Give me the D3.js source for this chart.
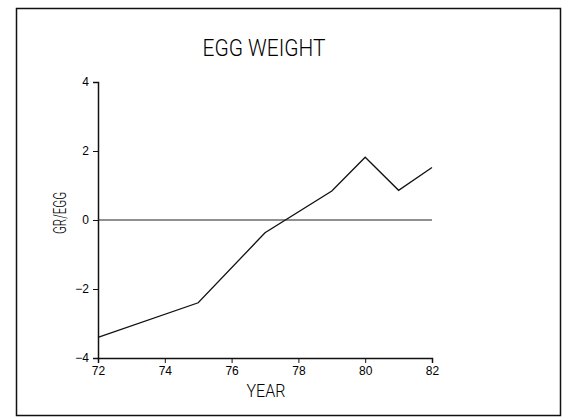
<!DOCTYPE html>
<html>
<head>
<meta charset="utf-8">
<script src="https://cdn.jsdelivr.net/npm/d3@7"></script>
<style>
  body { margin: 0; background: #fff; }
  .tick text { font-family: "Liberation Sans", Arial, sans-serif; font-size: 12px; fill: #000; }
  .label { font-family: Roboto, "DejaVu Sans", sans-serif; font-weight: 300; fill: #000; }
</style>
</head>
<body>
<div id="chart"></div>
<script>
// data
var years = [72, 75, 77, 79, 80, 81, 82];
var weights = [-3.4, -2.4, -0.37, 0.84, 1.82, 0.86, 1.52];
var xTicks = [72, 74, 76, 78, 80, 82];
var yTicks = [-4, -2, 0, 2, 4];

var W = 565, H = 419;
var margin = { top: 82, right: 133, bottom: 61, left: 98 },
  width = W - margin.left - margin.right,
  height = H - margin.top - margin.bottom;

var svg = d3.select("#chart").append("svg")
  .attr("width", W)
  .attr("height", H);

//Outer frame
svg.append("rect")
  .attr("x", 16.5).attr("y", 8.5)
  .attr("width", 544).attr("height", 407)
  .attr("fill", "none")
  .attr("stroke", "#111")
  .attr("stroke-width", 1.5);

var g = svg.append("g")
  .attr("transform", "translate(" + margin.left + "," + margin.top + ")");

var x = d3.scaleLinear().domain([72, 82]).range([0, width]);
var y = d3.scaleLinear().domain([-4, 4]).range([height, 0]);

//Axes
g.append("g")
  .attr("transform", "translate(0," + height + ")")
  .call(d3.axisBottom(x).tickValues(xTicks).tickSize(5).tickPadding(3))
  .call(function(a) {
    a.select(".domain").attr("stroke", "#111").attr("stroke-width", 1.5);
    a.selectAll(".tick line").attr("stroke", "#111");
  });

g.append("g")
  .call(d3.axisLeft(y).tickValues(yTicks).tickSize(5).tickPadding(4)
    .tickFormat(function(d) { return d < 0 ? "\u2212" + Math.abs(d) : d; }))
  .call(function(a) {
    a.select(".domain").attr("stroke", "#111").attr("stroke-width", 1.5);
    a.selectAll(".tick line").attr("stroke", "#111");
  });

//Zero reference line
g.append("line")
  .attr("x1", 0).attr("x2", width)
  .attr("y1", y(0)).attr("y2", y(0))
  .attr("stroke", "#222")
  .attr("stroke-width", 1.2);

//Data line
var line = d3.line()
  .x(function(d, i) { return x(years[i]); })
  .y(function(d) { return y(d); });

g.append("path")
  .datum(weights)
  .attr("d", line)
  .attr("fill", "none")
  .attr("stroke", "#111")
  .attr("stroke-width", 1.3);

//Titles
svg.append("text")
  .attr("class", "label")
  .attr("x", 264).attr("y", 56)
  .attr("text-anchor", "middle")
  .attr("font-size", 24)
  .attr("textLength", 123)
  .attr("lengthAdjust", "spacingAndGlyphs")
  .text("EGG WEIGHT");

svg.append("text")
  .attr("class", "label")
  .attr("x", 266).attr("y", 397)
  .attr("text-anchor", "middle")
  .attr("font-size", 18)
  .attr("textLength", 39)
  .attr("lengthAdjust", "spacingAndGlyphs")
  .text("YEAR");

svg.append("text")
  .attr("class", "label")
  .attr("transform", "translate(66,213) rotate(-90)")
  .attr("text-anchor", "middle")
  .attr("font-size", 18)
  .attr("textLength", 42)
  .attr("lengthAdjust", "spacingAndGlyphs")
  .text("GR/EGG");
</script>
</body>
</html>
